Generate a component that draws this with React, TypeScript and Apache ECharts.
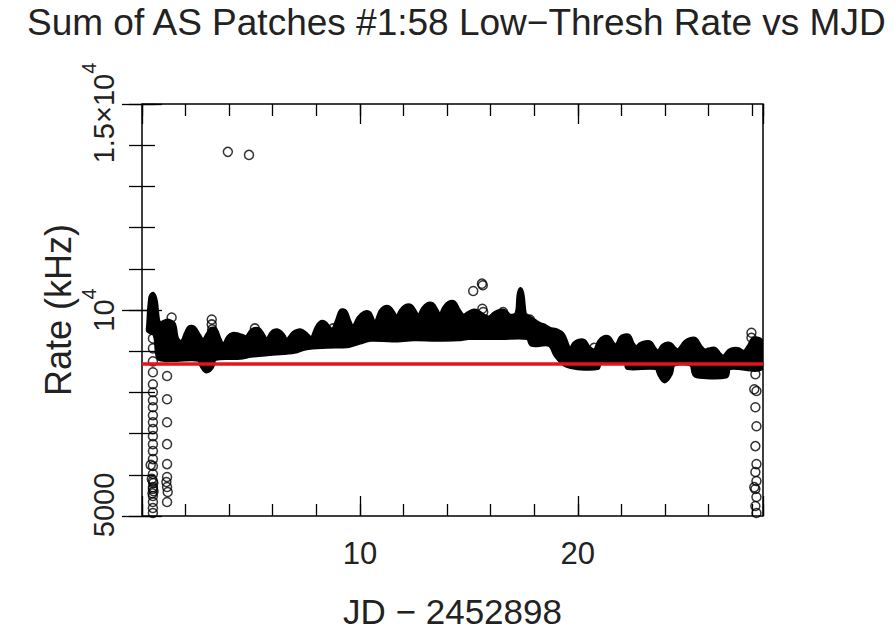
import React, { useEffect, useRef } from "react";
import * as echarts from "echarts";

// Upper edge of the dense rate band (day, rate kHz)
const upperX = [
  0.3, 0.4, 0.5, 0.62, 0.72, 0.85, 1.0, 1.21, 1.45, 1.59, 1.82, 2.05, 2.18, 2.38, 2.6, 2.81, 3.02, 3.18, 3.36,
  3.55, 3.73, 3.98, 4.17, 4.37, 4.6, 4.8, 5.02, 5.16, 5.36, 5.55, 5.72, 5.95, 6.08, 6.28, 6.47, 6.64, 6.95,
  7.15, 7.35, 7.58, 7.78, 8.02, 8.2, 8.38, 8.58, 8.75, 8.98, 9.14, 9.32, 9.5, 9.69, 9.95, 10.2, 10.42, 10.69,
  10.95, 11.12, 11.33, 11.55, 11.68, 11.9, 12.12, 12.33, 12.52, 12.68, 12.9, 13.1, 13.32, 13.5, 13.67, 13.9,
  14.1, 14.32, 14.52, 14.74, 15.0, 15.2, 15.38, 15.7, 15.96, 16.2, 16.45, 16.65, 16.88, 17.2, 17.3, 17.37,
  17.45, 17.55, 17.65, 17.95, 18.26, 18.5, 18.72, 19.0, 19.3, 19.5, 19.63, 19.85, 20.05, 20.28, 20.5, 20.78,
  21.0, 21.2, 21.42, 21.6, 21.78, 21.98, 22.12, 22.34, 22.5, 22.69, 22.9, 23.1, 23.32, 23.5, 23.68, 23.9,
  24.05, 24.25, 24.42, 24.6, 24.95, 25.18, 25.4, 25.62, 25.83, 26.0, 26.1, 26.3, 26.5, 26.67, 26.95, 27.15,
  27.38, 27.55, 27.66, 27.9, 28.05, 28.3, 28.45,
];
const upperY = [
  9600, 10300, 10376, 10200, 9750, 9650, 9700, 9730, 9650, 9300, 9200, 9450, 9570, 9560, 9380, 9246, 9400,
  9529, 9520, 9280, 9125, 9340, 9408, 9400, 9360, 9327, 9480, 9529, 9520, 9380, 9246, 9430, 9488, 9480, 9380,
  9246, 9430, 9488, 9480, 9380, 9287, 9560, 9690, 9680, 9560, 9488, 9760, 9972, 9960, 9720, 9560, 9800, 9920,
  9920, 9650, 9950, 10050, 10050, 9900, 9770, 9980, 10090, 10090, 9950, 9811, 10020, 10130, 10130, 9990,
  9851, 10060, 10170, 10170, 9990, 9851, 9920, 9972, 9960, 9850, 9811, 9920, 9972, 9960, 9851, 9900, 10350,
  10497, 10350, 9900, 9851, 9750, 9650, 9600, 9529, 9500, 9400, 9150, 9004, 9180, 9246, 9240, 9080, 9004,
  9230, 9327, 9320, 9180, 9125, 9320, 9367, 9360, 9180, 9085, 9170, 9206, 9200, 9060, 8964, 9120, 9166, 9160,
  9060, 9004, 9220, 9287, 9280, 9100, 9004, 9030, 9044, 9044, 8920, 8843, 9000, 9044, 9040, 8980, 8964, 9150,
  9287, 9287, 9200,
];

// Lower edge of the band
const lowerX = [
  0.3, 0.6, 0.75, 1.0, 1.59, 2.6, 2.75, 2.95, 3.2, 3.35, 4.5, 5.0, 6.0, 7.0, 7.5, 8.5, 9.5, 10.0, 10.5,
  11.5, 12.5, 13.5, 14.5, 15.0, 16.5, 17.7, 17.9, 18.7, 19.0, 19.4, 20.0, 20.9, 21.0, 22.2, 22.3, 23.6,
  23.75, 23.99, 24.25, 24.4, 25.2, 25.35, 25.5, 26.8, 26.95, 28.45,
];
const lowerY = [
  9500, 9400, 8850, 8800, 8800, 8800, 8650, 8520, 8620, 8820, 8850, 8900, 8950, 9000, 9080, 9120, 9140,
  9220, 9290, 9270, 9300, 9290, 9300, 9330, 9330, 9330, 9166, 9166, 8900, 8681, 8601, 8601, 8722, 8722,
  8601, 8601, 8450, 8278, 8450, 8681, 8681, 8450, 8399, 8399, 8601, 8601,
];

// Isolated readings drawn as open circles (day, rate kHz)
const strayPoints: [number, number][] = [
  [3.94, 13838], [4.91, 13765],
  [15.2, 10460], [15.6, 10640], [15.64, 10600], [15.62, 10030], [15.66, 9950],
  [1.36, 9818], [3.2, 9770], [3.2, 9650], [3.22, 9529], [5.18, 9553], [8.77, 9553],
  [16.57, 9950], [17.8, 9770], [20.75, 9080], [24.1, 9100], [27.97, 9448], [27.97, 9327],
];

// Column of low readings at the start of the run
const startColumn: [number, number][] = [
  [0.5, 9311], [0.5, 9069], [0.5, 8754], [0.5, 8488], [0.5, 8197], [0.5, 8003], [0.5, 7810], [0.5, 7640],
  [0.5, 7447], [0.5, 7277], [0.5, 7108], [0.5, 6938], [0.5, 6744], [0.5, 6575], [0.5, 6381], [0.5, 6212],
  [0.5, 6018], [0.5, 5849], [0.5, 5655], [0.5, 5485], [0.5, 5340], [0.5, 5195], [0.5, 5074],
  [0.45, 5900], [0.52, 5800], [0.5, 5700], [0.53, 5600], [0.48, 5550], [0.4, 6240],
  [1.15, 9125], [1.15, 8398], [1.15, 7834], [1.15, 7277], [1.15, 6744], [1.15, 6260], [1.15, 5946],
  [1.12, 5824], [1.15, 5703], [1.18, 5582], [1.15, 5340],
];

// Column of low readings at the end of the run
const endColumn: [number, number][] = [
  [28.15, 8439], [28.1, 8076], [28.2, 8035], [28.15, 7640], [28.2, 7180], [28.15, 6696], [28.2, 6260],
  [28.15, 6067], [28.2, 5849], [28.15, 5655], [28.2, 5461], [28.15, 5243], [28.2, 5074], [28.1, 5700],
];

const referenceRate = 8700;

const xTickLabels = [10, 20];
const yTickLabels: Record<number, string> = {
  5000: "{low|5000}",
  10000: "{n|10}{s|4}",
  15000: "{n|1.5×10}{top|4}",
};

const FONT = "'Liberation Sans', Arial, sans-serif";
const INK = "#222";

export default function App() {
  const ref = useRef<HTMLDivElement>(null);

  useEffect(() => {
    if (!ref.current) return;
    document.body.style.margin = "0";
    const chart = echarts.init(ref.current, undefined, { renderer: "svg" });

    const tick = (len: number) => ({
      show: true,
      inside: true,
      length: len,
      lineStyle: { color: "#000", width: 1.3 },
    });
    const xBase = {
      type: "value" as const,
      min: 0,
      max: 28.5,
      axisLine: { show: false },
      splitLine: { show: false },
    };
    const yBase = {
      type: "value" as const,
      min: 5000,
      max: 15000,
      axisLine: { show: false },
      splitLine: { show: false },
    };

    chart.setOption({
      animation: false,
      backgroundColor: "#fff",
      title: {
        text: "Sum of AS Patches #1:58 Low−Thresh Rate vs MJD",
        left: 22,
        top: -1,
        textStyle: { fontFamily: FONT, fontSize: 37, fontWeight: "normal", color: INK },
      },
      grid: {
        left: 142,
        right: 132,
        top: 104,
        bottom: 117,
        show: true,
        borderColor: "#000",
        borderWidth: 1.5,
        backgroundColor: "transparent",
      },
      xAxis: [
        {
          ...xBase,
          position: "bottom",
          interval: 2,
          axisTick: tick(12),
          axisLabel: {
            formatter: (v: number) => (xTickLabels.includes(v) ? String(v) : ""),
            margin: 22,
            fontFamily: FONT,
            fontSize: 31,
            color: INK,
          },
          name: "JD − 2452898",
          nameLocation: "middle",
          nameGap: 78,
          nameTextStyle: { fontFamily: FONT, fontSize: 35, color: INK },
        },
        { ...xBase, position: "bottom", interval: 10, axisTick: tick(20), axisLabel: { show: false } },
        { ...xBase, position: "top", interval: 2, axisTick: tick(12), axisLabel: { show: false } },
        { ...xBase, position: "top", interval: 10, axisTick: tick(20), axisLabel: { show: false } },
      ],
      yAxis: [
        {
          ...yBase,
          position: "left",
          interval: 1000,
          axisTick: tick(13),
          axisLabel: {
            rotate: 90,
            margin: 24,
            formatter: (v: number) => yTickLabels[v] ?? "",
            fontFamily: FONT,
            fontSize: 29,
            color: INK,
            rich: {
              n: { fontFamily: FONT, fontSize: 29, color: INK, padding: [10, 0, 0, 0] },
              s: { fontFamily: FONT, fontSize: 20, color: INK, verticalAlign: "top" },
              top: { fontFamily: FONT, fontSize: 20, color: INK, verticalAlign: "top", padding: [0, 18, 0, 0] },
              low: { fontFamily: FONT, fontSize: 29, color: INK, padding: [0, 0, 0, 22] },
            },
          },
          name: "Rate (kHz)",
          nameLocation: "middle",
          nameGap: 66,
          nameMoveOverlap: false,
          nameTextStyle: { fontFamily: FONT, fontSize: 36, color: INK },
        },
        { ...yBase, position: "left", interval: 5000, axisTick: tick(20), axisLabel: { show: false } },
        { ...yBase, position: "right", interval: 1000, axisTick: tick(13), axisLabel: { show: false } },
        { ...yBase, position: "right", interval: 5000, axisTick: tick(20), axisLabel: { show: false } },
      ],
      series: [
        {
          type: "custom",
          clip: true,
          data: [[upperX[0], upperY[0]]],
          renderItem: (_params: any, api: any) => {
            const pts: number[][] = [];
            for (let i = 0; i < upperX.length; i++) pts.push(api.coord([upperX[i], upperY[i]]));
            for (let i = lowerX.length - 1; i >= 0; i--) pts.push(api.coord([lowerX[i], lowerY[i]]));
            return {
              type: "polygon",
              shape: { points: pts, smooth: 0.35 },
              style: { fill: "#000", stroke: "#000", lineWidth: 5, lineJoin: "round" },
            };
          },
          z: 2,
        },
        {
          type: "scatter",
          data: [...strayPoints, ...startColumn, ...endColumn],
          symbol: "circle",
          symbolSize: 9,
          itemStyle: { color: "rgba(0,0,0,0)", borderColor: "#000", borderWidth: 1.5 },
          z: 3,
          markLine: {
            silent: true,
            symbol: "none",
            label: { show: false },
            lineStyle: { color: "#e4141b", width: 3.5, type: "solid" },
            data: [{ yAxis: referenceRate }],
            z: 5,
          },
        },
      ],
    });

    return () => chart.dispose();
  }, []);

  return <div ref={ref} style={{ width: 895, height: 634 }} />;
}
